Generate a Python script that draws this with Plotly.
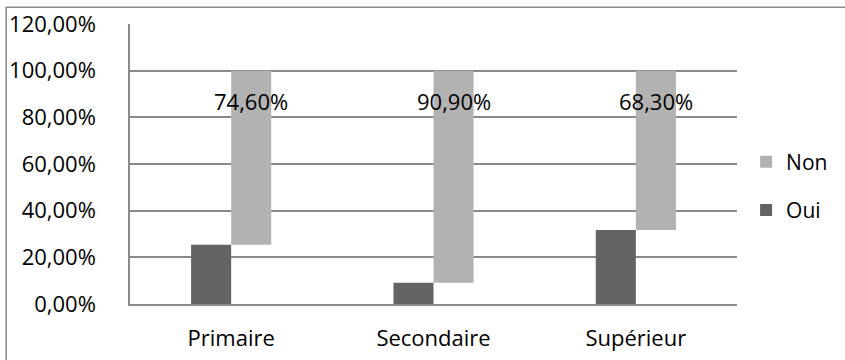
import plotly.graph_objects as go

# Niveau d'instruction et réponses Oui / Non (parts en %)
categories = ["Primaire", "Secondaire", "Supérieur"]
oui = [25.4, 9.1, 31.7]
non = [74.6, 90.9, 68.3]

tick_vals = [0, 20, 40, 60, 80, 100, 120]

FONT = "Open Sans"
GRID = "#8a8a8a"


def pct(v):
    return f"{v:.2f}%".replace(".", ",")


fig = go.Figure()

fig.add_trace(go.Bar(
    name="Oui", x=categories, y=oui,
    marker=dict(color="#636363", line=dict(width=0)),
    legendgroup="oui", legendrank=2,
))

# "Non" bars sit on top of the "Oui" share, up to 100 %
fig.add_trace(go.Bar(
    name="Non", x=categories, y=non, base=oui,
    marker=dict(color="#b2b2b2", line=dict(width=0)),
    legendgroup="non", legendrank=1,
))

for c, v in zip(categories, non):
    fig.add_annotation(
        x=c, y=87.2, xref="x", yref="y", xshift=20,
        text=pct(v), showarrow=False,
        font=dict(family=FONT, size=22, color="#000000"),
        xanchor="center", yanchor="middle",
    )

# chart frame
fig.add_shape(
    type="rect", xref="paper", yref="paper",
    x0=-0.204, x1=1.2, y0=-0.25, y1=1.06,
    line=dict(color=GRID, width=1.5), fillcolor="rgba(0,0,0,0)", layer="below",
)

fig.update_layout(
    width=845, height=360,
    margin=dict(l=130, r=108, t=24, b=56, autoexpand=False),
    paper_bgcolor="white", plot_bgcolor="white",
    barmode="group", bargap=0.604, bargroupgap=0,
    font=dict(family=FONT, size=22, color="#000000"),
    showlegend=True,
    legend=dict(
        x=1.015, xanchor="left", y=0.58, yanchor="top",
        traceorder="grouped", tracegroupgap=18,
        font=dict(family=FONT, size=21, color="#000000"),
        bgcolor="rgba(0,0,0,0)", itemclick=False,
    ),
)

fig.update_yaxes(
    range=[0, 120], tickvals=tick_vals,
    ticktext=[pct(v) for v in tick_vals],
    showgrid=True, gridcolor=GRID, gridwidth=1.5,
    showline=True, linecolor=GRID, linewidth=1.5,
    zeroline=False, ticks="", ticklabelstandoff=28,
    tickfont=dict(family=FONT, size=22, color="#000000"),
    automargin=False, fixedrange=True,
)

fig.update_xaxes(
    showgrid=False, showline=True, linecolor=GRID, linewidth=1.5,
    ticks="", ticklabelstandoff=14,
    tickfont=dict(family=FONT, size=22, color="#000000"),
    automargin=False, fixedrange=True,
)

fig.write_html("out.html")
